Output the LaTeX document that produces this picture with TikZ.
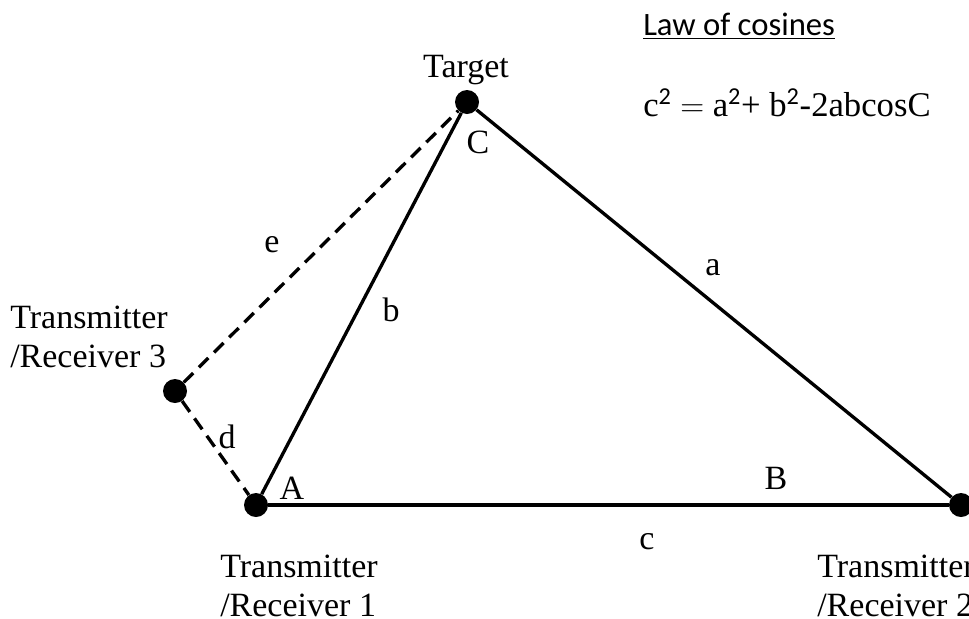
\documentclass[tikz,border=0pt]{standalone}
\usepackage{fontspec}
\setmainfont{Liberation Serif}
\newfontfamily\lawfont{Carlito}
\usetikzlibrary{math}

\begin{document}
\begin{tikzpicture}[x=0.75pt,y=-0.75pt,
  dot/.style={circle,fill=black,inner sep=0pt,minimum size=18pt},
  side/.style={line width=2.5pt},
  path3/.style={side,dash pattern=on 10pt off 6pt},
  lbl/.style={font=\fontsize{25.5}{30}\selectfont,inner sep=0pt},
  lblline/.style={lbl,anchor=base west}]
\tikzmath{
\hs=39;
}
\useasboundingbox (0,0) rectangle (969,618);

\node[dot] (C) at (467,102) {};
\node[dot] (A) at (256,505) {};
\node[dot] (B) at (961,505) {};
\node[dot] (R3) at (175,391) {};

\draw[side] (A) -- (B);
\draw[side] (A) -- (C);
\draw[side] (C) -- (B);
\draw[path3] (R3) -- (C);
\draw[path3] (R3) -- (A);

\node[lbl,anchor=base] (tgt) at (466,77) {Target};
\node[lbl] (lc) at (478,142) {C};
\node[lbl] (la) at (292,488) {A};
\node[lbl] (lb) at (776,478) {B};
\node[lbl] (sa) at (713,268) {a};
\node[lbl] (sb) at (391,310) {b};
\node[lbl] (sc) at (647,542) {c};
\node[lbl] (sd) at (227,437) {d};
\node[lbl] (se) at (272,245) {e};

\node[lblline] (r1a) at (220,577) {Transmitter};
\node[lblline] (r1b) at (220,577+\hs) {/Receiver 1};
\node[lblline] (r2a) at (817,577) {Transmitter};
\node[lblline] (r2b) at (817,577+\hs) {/Receiver 2};
\node[lblline] (r3a) at (10,328) {Transmitter};
\node[lblline] (r3b) at (10,328+\hs) {/Receiver 3};

\node[lbl,font=\lawfont\fontsize{24.5}{29}\selectfont,anchor=west] (law) at (643,26) {\underline{Law of cosines}};
\node[lbl,font=\fontsize{26}{30}\selectfont,anchor=west] (rule) at (643,103) {c\textsuperscript{\lawfont 2} $=$ a\textsuperscript{\lawfont 2}+ b\textsuperscript{\lawfont 2}-2abcosC};
\end{tikzpicture}
\end{document}
